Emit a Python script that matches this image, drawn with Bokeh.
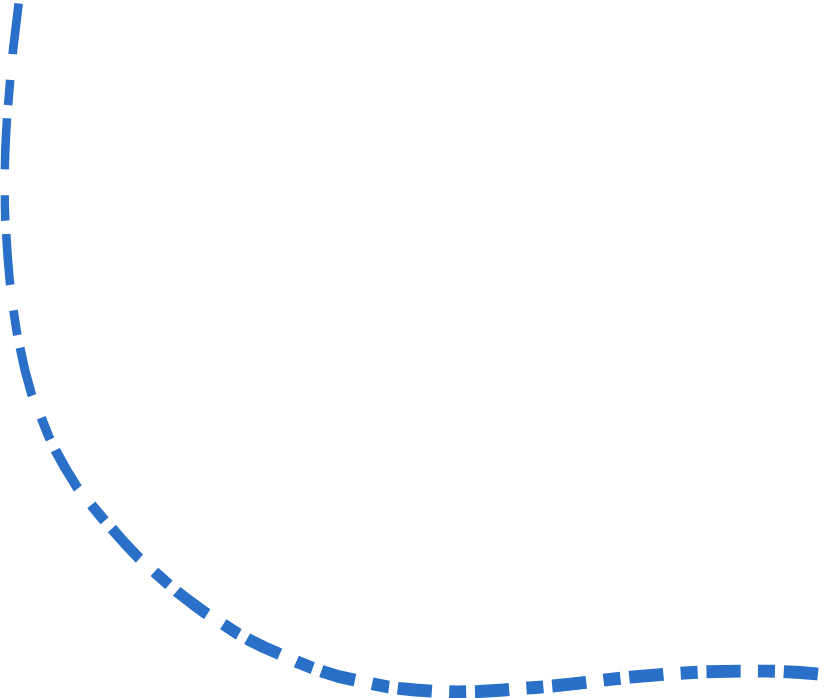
import numpy as np
from bokeh.plotting import figure
from bokeh.models import Range1d, ColumnDataSource
from bokeh.embed import file_html
from bokeh.resources import INLINE

# Curve (x to the right, y downwards, in page pixels)
curve_x = [18.5, 15.5, 12.5, 10.0, 8.0, 6.6, 5.6, 4.8, 4.2, 4.0, 4.2, 4.8, 5.8, 7.3, 9.2,
           12.3, 16.0, 19.5, 24.5, 31.0, 40.5, 48.0, 55.0, 65.0, 76.7, 91.7, 103.0, 111.7,
           125.0, 138.3, 154.0, 167.0, 177.0, 192.0, 205.0, 224.0, 237.0, 248.0, 263.0,
           278.0, 297.0, 312.0, 322.0, 338.0, 354.0, 373.0, 388.0, 398.0, 415.0, 432.0,
           457.0, 478.0, 500.0, 518.0, 535.0, 552.0, 570.0, 586.0, 612.0, 630.0, 663.0,
           688.0, 705.0, 739.0, 765.0, 782.0, 800.0, 816.0, 834.0, 850.0]
curve_y = [0.0, 25.0, 50.0, 75.0, 100.0, 117.0, 133.0, 150.0, 167.0, 185.0, 205.0, 220.0,
           235.0, 258.0, 280.0, 305.0, 330.0, 347.0, 370.0, 393.5, 416.5, 435.5, 450.0,
           468.0, 487.0, 505.5, 519.0, 528.5, 543.5, 557.5, 571.5, 583.0, 591.5, 603.0,
           612.5, 624.5, 633.0, 639.0, 646.5, 653.0, 661.5, 667.5, 671.0, 676.0, 679.5,
           683.5, 686.5, 687.8, 689.5, 690.7, 691.5, 691.0, 689.7, 688.3, 687.0, 685.5,
           683.6, 681.8, 678.6, 676.7, 673.8, 672.2, 671.3, 670.6, 670.6, 671.0, 672.0,
           673.4, 675.3, 677.5]

# Styling of the dashed stroke (the reference stroke is stretched 1.5x vertically)
LINE_COLOR = "#2a70c9"
STRETCH = 1.5
SHORT, SMALL_GAP, LONG, BIG_GAP = 17.0, 8.8, 34.2, 17.3
BASE_WIDTH = 8.6
PHASE = 23.7

W, H = 834, 698

p = figure(width=W, height=H, x_range=Range1d(0, W), y_range=Range1d(H, 0),
           output_backend="svg", toolbar_location=None, min_border=0,
           x_axis_location=None, y_axis_location=None,
           outline_line_color=None, background_fill_color="white",
           border_fill_color="white")
p.grid.visible = False

xs = np.asarray(curve_x, float)
ys = np.asarray(curve_y, float)
us, vs = xs, ys / STRETCH
seg_u = np.hypot(np.diff(us), np.diff(vs))
cum = np.concatenate([[0.0], np.cumsum(seg_u)])
total = cum[-1]

period = SHORT + SMALL_GAP + LONG + BIG_GAP
intervals = []
start = -PHASE
while start < total:
    intervals.append((start, start + SHORT))
    intervals.append((start + SHORT + SMALL_GAP, start + SHORT + SMALL_GAP + LONG))
    start += period

dash_xs, dash_ys, dash_w = [], [], []
for a, b in intervals:
    a, b = max(a, 0.0), min(b, total)
    if b - a < 0.5:
        continue
    inner = [i for i in range(len(cum)) if a < cum[i] < b]
    ts = [a] + [cum[i] for i in inner] + [b]
    dx = list(np.interp(ts, cum, xs))
    dy = list(np.interp(ts, cum, ys))
    screen_len = np.sum(np.hypot(np.diff(dx), np.diff(dy)))
    k = screen_len / (b - a)
    dash_xs.append(dx)
    dash_ys.append(dy)
    dash_w.append(BASE_WIDTH * STRETCH / k)

src = ColumnDataSource(data=dict(xs=dash_xs, ys=dash_ys, w=dash_w))
p.multi_line(xs="xs", ys="ys", line_width="w", line_color=LINE_COLOR,
             line_cap="butt", line_join="round", source=src)

open("out.html", "w").write(file_html(p, INLINE))
